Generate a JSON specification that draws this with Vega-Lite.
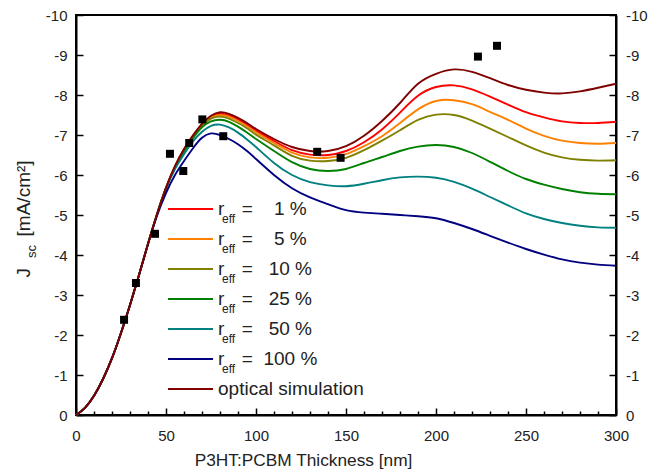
{
  "$schema": "https://vega.github.io/schema/vega-lite/v6.json",
  "width": 540,
  "height": 400,
  "autosize": {"type": "none"},
  "padding": {"left": 76, "top": 15, "right": 32, "bottom": 57},
  "background": "white",
  "config": {
    "view": {"stroke": "#000", "strokeWidth": 2},
    "font": "Liberation Sans",
    "axis": {"grid": false, "domainColor": "#000", "domainWidth": 2, "tickColor": "#000", "tickWidth": 1.5, "labelFont": "Liberation Sans", "labelFontSize": 15, "labelColor": "#222", "titleFont": "Liberation Sans", "titleColor": "#222", "titleFontWeight": "normal", "labelOverlap": false, "labelFlush": false},
    "legend": {"labelFont": "Liberation Sans", "labelColor": "#222"}
  },
  "datasets": {
    "curves": [
      {"s":"r1","x":0,"y":0},{"s":"r1","x":5,"y":-0.18},{"s":"r1","x":10,"y":-0.48},{"s":"r1","x":15,"y":-0.9},{"s":"r1","x":20,"y":-1.42},{"s":"r1","x":25,"y":-2.05},{"s":"r1","x":30,"y":-2.75},{"s":"r1","x":35,"y":-3.5},{"s":"r1","x":40,"y":-4.28},{"s":"r1","x":45,"y":-5.02},
      {"s":"r1","x":50,"y":-5.68},{"s":"r1","x":55,"y":-6.22},{"s":"r1","x":60,"y":-6.64},{"s":"r1","x":65,"y":-6.98},{"s":"r1","x":70,"y":-7.27},{"s":"r1","x":75,"y":-7.46},{"s":"r1","x":80,"y":-7.53},{"s":"r1","x":85,"y":-7.49},{"s":"r1","x":90,"y":-7.39},{"s":"r1","x":95,"y":-7.26},{"s":"r1","x":100,"y":-7.11},
      {"s":"r1","x":110,"y":-6.85},{"s":"r1","x":120,"y":-6.62},{"s":"r1","x":130,"y":-6.51},{"s":"r1","x":140,"y":-6.5},{"s":"r1","x":150,"y":-6.6},{"s":"r1","x":160,"y":-6.82},{"s":"r1","x":170,"y":-7.14},{"s":"r1","x":180,"y":-7.56},{"s":"r1","x":190,"y":-7.98},{"s":"r1","x":200,"y":-8.2},
      {"s":"r1","x":210,"y":-8.24},{"s":"r1","x":220,"y":-8.14},{"s":"r1","x":230,"y":-7.96},{"s":"r1","x":240,"y":-7.76},{"s":"r1","x":250,"y":-7.57},{"s":"r1","x":260,"y":-7.44},{"s":"r1","x":270,"y":-7.34},{"s":"r1","x":280,"y":-7.3},{"s":"r1","x":290,"y":-7.3},{"s":"r1","x":300,"y":-7.33},

      {"s":"r5","x":0,"y":0},{"s":"r5","x":5,"y":-0.18},{"s":"r5","x":10,"y":-0.48},{"s":"r5","x":15,"y":-0.9},{"s":"r5","x":20,"y":-1.42},{"s":"r5","x":25,"y":-2.05},{"s":"r5","x":30,"y":-2.75},{"s":"r5","x":35,"y":-3.5},{"s":"r5","x":40,"y":-4.28},{"s":"r5","x":45,"y":-5.02},
      {"s":"r5","x":50,"y":-5.68},{"s":"r5","x":55,"y":-6.21},{"s":"r5","x":60,"y":-6.63},{"s":"r5","x":65,"y":-6.97},{"s":"r5","x":70,"y":-7.25},{"s":"r5","x":75,"y":-7.44},{"s":"r5","x":80,"y":-7.5},{"s":"r5","x":85,"y":-7.46},{"s":"r5","x":90,"y":-7.35},{"s":"r5","x":95,"y":-7.22},{"s":"r5","x":100,"y":-7.07},
      {"s":"r5","x":110,"y":-6.8},{"s":"r5","x":120,"y":-6.56},{"s":"r5","x":130,"y":-6.44},{"s":"r5","x":140,"y":-6.43},{"s":"r5","x":150,"y":-6.52},{"s":"r5","x":160,"y":-6.72},{"s":"r5","x":170,"y":-6.97},{"s":"r5","x":180,"y":-7.3},{"s":"r5","x":190,"y":-7.64},{"s":"r5","x":200,"y":-7.85},
      {"s":"r5","x":210,"y":-7.87},{"s":"r5","x":220,"y":-7.77},{"s":"r5","x":230,"y":-7.58},{"s":"r5","x":240,"y":-7.38},{"s":"r5","x":250,"y":-7.16},{"s":"r5","x":260,"y":-6.98},{"s":"r5","x":270,"y":-6.86},{"s":"r5","x":280,"y":-6.8},{"s":"r5","x":290,"y":-6.78},{"s":"r5","x":300,"y":-6.8},

      {"s":"r10","x":0,"y":0},{"s":"r10","x":5,"y":-0.18},{"s":"r10","x":10,"y":-0.48},{"s":"r10","x":15,"y":-0.9},{"s":"r10","x":20,"y":-1.42},{"s":"r10","x":25,"y":-2.05},{"s":"r10","x":30,"y":-2.75},{"s":"r10","x":35,"y":-3.5},{"s":"r10","x":40,"y":-4.28},{"s":"r10","x":45,"y":-5.02},
      {"s":"r10","x":50,"y":-5.68},{"s":"r10","x":55,"y":-6.2},{"s":"r10","x":60,"y":-6.61},{"s":"r10","x":65,"y":-6.95},{"s":"r10","x":70,"y":-7.23},{"s":"r10","x":75,"y":-7.41},{"s":"r10","x":80,"y":-7.46},{"s":"r10","x":85,"y":-7.41},{"s":"r10","x":90,"y":-7.3},{"s":"r10","x":95,"y":-7.17},{"s":"r10","x":100,"y":-7.01},
      {"s":"r10","x":110,"y":-6.74},{"s":"r10","x":120,"y":-6.48},{"s":"r10","x":130,"y":-6.36},{"s":"r10","x":140,"y":-6.35},{"s":"r10","x":150,"y":-6.43},{"s":"r10","x":160,"y":-6.62},{"s":"r10","x":170,"y":-6.86},{"s":"r10","x":180,"y":-7.12},{"s":"r10","x":190,"y":-7.38},{"s":"r10","x":200,"y":-7.51},
      {"s":"r10","x":210,"y":-7.5},{"s":"r10","x":220,"y":-7.36},{"s":"r10","x":230,"y":-7.16},{"s":"r10","x":240,"y":-6.95},{"s":"r10","x":250,"y":-6.74},{"s":"r10","x":260,"y":-6.56},{"s":"r10","x":270,"y":-6.44},{"s":"r10","x":280,"y":-6.38},{"s":"r10","x":290,"y":-6.36},{"s":"r10","x":300,"y":-6.37},

      {"s":"r25","x":0,"y":0},{"s":"r25","x":5,"y":-0.18},{"s":"r25","x":10,"y":-0.48},{"s":"r25","x":15,"y":-0.9},{"s":"r25","x":20,"y":-1.42},{"s":"r25","x":25,"y":-2.05},{"s":"r25","x":30,"y":-2.75},{"s":"r25","x":35,"y":-3.5},{"s":"r25","x":40,"y":-4.28},{"s":"r25","x":45,"y":-5.02},
      {"s":"r25","x":50,"y":-5.67},{"s":"r25","x":55,"y":-6.19},{"s":"r25","x":60,"y":-6.59},{"s":"r25","x":65,"y":-6.92},{"s":"r25","x":70,"y":-7.19},{"s":"r25","x":75,"y":-7.34},{"s":"r25","x":80,"y":-7.38},{"s":"r25","x":85,"y":-7.33},{"s":"r25","x":90,"y":-7.21},{"s":"r25","x":95,"y":-7.06},{"s":"r25","x":100,"y":-6.9},
      {"s":"r25","x":110,"y":-6.6},{"s":"r25","x":120,"y":-6.32},{"s":"r25","x":130,"y":-6.15},{"s":"r25","x":140,"y":-6.1},{"s":"r25","x":150,"y":-6.15},{"s":"r25","x":160,"y":-6.3},{"s":"r25","x":170,"y":-6.45},{"s":"r25","x":180,"y":-6.6},{"s":"r25","x":190,"y":-6.71},{"s":"r25","x":200,"y":-6.75},
      {"s":"r25","x":210,"y":-6.7},{"s":"r25","x":220,"y":-6.55},{"s":"r25","x":230,"y":-6.33},{"s":"r25","x":240,"y":-6.1},{"s":"r25","x":250,"y":-5.9},{"s":"r25","x":260,"y":-5.76},{"s":"r25","x":270,"y":-5.65},{"s":"r25","x":280,"y":-5.57},{"s":"r25","x":290,"y":-5.53},{"s":"r25","x":300,"y":-5.52},

      {"s":"r50","x":0,"y":0},{"s":"r50","x":5,"y":-0.18},{"s":"r50","x":10,"y":-0.48},{"s":"r50","x":15,"y":-0.9},{"s":"r50","x":20,"y":-1.42},{"s":"r50","x":25,"y":-2.05},{"s":"r50","x":30,"y":-2.75},{"s":"r50","x":35,"y":-3.5},{"s":"r50","x":40,"y":-4.28},{"s":"r50","x":45,"y":-5.01},
      {"s":"r50","x":50,"y":-5.66},{"s":"r50","x":55,"y":-6.15},{"s":"r50","x":60,"y":-6.52},{"s":"r50","x":65,"y":-6.84},{"s":"r50","x":70,"y":-7.08},{"s":"r50","x":75,"y":-7.23},{"s":"r50","x":80,"y":-7.26},{"s":"r50","x":85,"y":-7.19},{"s":"r50","x":90,"y":-7.06},{"s":"r50","x":95,"y":-6.89},{"s":"r50","x":100,"y":-6.7},
      {"s":"r50","x":110,"y":-6.3},{"s":"r50","x":120,"y":-6.0},{"s":"r50","x":130,"y":-5.82},{"s":"r50","x":140,"y":-5.74},{"s":"r50","x":150,"y":-5.72},{"s":"r50","x":160,"y":-5.78},{"s":"r50","x":170,"y":-5.87},{"s":"r50","x":180,"y":-5.94},{"s":"r50","x":190,"y":-5.96},{"s":"r50","x":200,"y":-5.93},
      {"s":"r50","x":210,"y":-5.83},{"s":"r50","x":220,"y":-5.66},{"s":"r50","x":230,"y":-5.45},{"s":"r50","x":240,"y":-5.24},{"s":"r50","x":250,"y":-5.04},{"s":"r50","x":260,"y":-4.9},{"s":"r50","x":270,"y":-4.8},{"s":"r50","x":280,"y":-4.73},{"s":"r50","x":290,"y":-4.69},{"s":"r50","x":300,"y":-4.68},

      {"s":"r100","x":0,"y":0},{"s":"r100","x":5,"y":-0.18},{"s":"r100","x":10,"y":-0.48},{"s":"r100","x":15,"y":-0.9},{"s":"r100","x":20,"y":-1.42},{"s":"r100","x":25,"y":-2.05},{"s":"r100","x":30,"y":-2.75},{"s":"r100","x":35,"y":-3.5},{"s":"r100","x":40,"y":-4.27},{"s":"r100","x":45,"y":-4.98},
      {"s":"r100","x":50,"y":-5.55},{"s":"r100","x":55,"y":-6.0},{"s":"r100","x":60,"y":-6.35},{"s":"r100","x":65,"y":-6.67},{"s":"r100","x":70,"y":-6.93},{"s":"r100","x":75,"y":-7.04},{"s":"r100","x":80,"y":-7.0},{"s":"r100","x":85,"y":-6.9},{"s":"r100","x":90,"y":-6.77},{"s":"r100","x":95,"y":-6.6},{"s":"r100","x":100,"y":-6.4},
      {"s":"r100","x":110,"y":-6.0},{"s":"r100","x":120,"y":-5.67},{"s":"r100","x":130,"y":-5.44},{"s":"r100","x":140,"y":-5.27},{"s":"r100","x":150,"y":-5.12},{"s":"r100","x":160,"y":-5.06},{"s":"r100","x":170,"y":-5.03},{"s":"r100","x":180,"y":-5.0},{"s":"r100","x":190,"y":-4.97},{"s":"r100","x":200,"y":-4.92},
      {"s":"r100","x":210,"y":-4.8},{"s":"r100","x":220,"y":-4.65},{"s":"r100","x":230,"y":-4.48},{"s":"r100","x":240,"y":-4.31},{"s":"r100","x":250,"y":-4.15},{"s":"r100","x":260,"y":-4.01},{"s":"r100","x":270,"y":-3.89},{"s":"r100","x":280,"y":-3.81},{"s":"r100","x":290,"y":-3.76},{"s":"r100","x":300,"y":-3.73},

      {"s":"opt","x":0,"y":0},{"s":"opt","x":5,"y":-0.18},{"s":"opt","x":10,"y":-0.48},{"s":"opt","x":15,"y":-0.9},{"s":"opt","x":20,"y":-1.42},{"s":"opt","x":25,"y":-2.05},{"s":"opt","x":30,"y":-2.75},{"s":"opt","x":35,"y":-3.5},{"s":"opt","x":40,"y":-4.28},{"s":"opt","x":45,"y":-5.02},
      {"s":"opt","x":50,"y":-5.68},{"s":"opt","x":55,"y":-6.22},{"s":"opt","x":60,"y":-6.65},{"s":"opt","x":65,"y":-6.99},{"s":"opt","x":70,"y":-7.28},{"s":"opt","x":75,"y":-7.48},{"s":"opt","x":80,"y":-7.57},{"s":"opt","x":85,"y":-7.53},{"s":"opt","x":90,"y":-7.43},{"s":"opt","x":95,"y":-7.3},{"s":"opt","x":100,"y":-7.15},
      {"s":"opt","x":110,"y":-6.9},{"s":"opt","x":120,"y":-6.7},{"s":"opt","x":130,"y":-6.6},{"s":"opt","x":140,"y":-6.6},{"s":"opt","x":150,"y":-6.72},{"s":"opt","x":160,"y":-6.98},{"s":"opt","x":170,"y":-7.35},{"s":"opt","x":180,"y":-7.8},{"s":"opt","x":190,"y":-8.28},{"s":"opt","x":200,"y":-8.53},
      {"s":"opt","x":210,"y":-8.64},{"s":"opt","x":220,"y":-8.58},{"s":"opt","x":230,"y":-8.42},{"s":"opt","x":240,"y":-8.25},{"s":"opt","x":250,"y":-8.13},{"s":"opt","x":260,"y":-8.06},{"s":"opt","x":270,"y":-8.04},{"s":"opt","x":280,"y":-8.09},{"s":"opt","x":290,"y":-8.18},{"s":"opt","x":300,"y":-8.28}
    ],
    "pts": [
      {"x":26.7,"y":-2.38},{"x":33.3,"y":-3.3},{"x":43.9,"y":-4.53},{"x":52.2,"y":-6.53},{"x":59.6,"y":-6.1},{"x":62.9,"y":-6.8},
      {"x":70.2,"y":-7.39},{"x":81.8,"y":-6.97},{"x":134,"y":-6.58},{"x":147,"y":-6.43},{"x":223.3,"y":-8.96},{"x":233.9,"y":-9.23}
    ],
    "legkeys": [{"k":"a1"},{"k":"a2"},{"k":"a3"},{"k":"a4"},{"k":"a5"},{"k":"a6"},{"k":"a7"}]
  },
  "layer": [
    {
      "data": {"name": "curves"},
      "mark": {"type": "line", "interpolate": "natural"},
      "encoding": {
        "x": {"field": "x", "type": "quantitative", "scale": {"domain": [0, 300], "nice": false},
          "axis": {"orient": "bottom", "values": [0,50,100,150,200,250,300],
            "tickSize": -7, "labelPadding": 20,
            "title": "P3HT:PCBM Thickness [nm]", "titleFontSize": 17.3, "titleX": 227, "titleAlign": "center", "titleY": 50.5, "titleBaseline": "alphabetic"}},
        "y": {"field": "y", "type": "quantitative", "scale": {"domain": [0, -10], "nice": false},
          "axis": {"orient": "left", "values": [-10,-9,-8,-7,-6,-5,-4,-3,-2,-1,0],
            "labelExpr": "datum.value == 0 ? '0' : '-' + abs(datum.value)",
            "tickSize": -7, "labelPadding": 16,
            "title": "J\u00a0\u00a0\u00a0\u00a0\u00a0\u00a0[mA/cm²]", "titleFontSize": 19, "titleX": -47, "titleY": 203.5, "titleAngle": -90, "titleBaseline": "alphabetic", "titleAlign": "center"}},
        "color": {"field": "s", "type": "nominal",
          "scale": {"domain": ["r1","r5","r10","r25","r50","r100","opt"], "range": ["#ff0000","#ff8000","#808000","#008000","#008080","#000080","#800000"]},
          "legend": {"orient": "none", "legendX": 91, "legendY": 184, "title": null, "symbolType": "stroke", "symbolSize": 2025, "labelFontSize": 19, "labelOffset": 4, "clipHeight": 20, "rowPadding": 10, "padding": 0,
            "labelExpr": "datum.label == 'r1' ? 'r\u00a0\u00a0\u00a0\u200a=\u00a0\u00a0\u00a0\u00a01\u00a0%' : datum.label == 'r5' ? 'r\u00a0\u00a0\u00a0\u200a=\u00a0\u00a0\u00a0\u00a05\u00a0%' : datum.label == 'r10' ? 'r\u00a0\u00a0\u00a0\u200a=\u00a0\u00a0\u00a010\u00a0%' : datum.label == 'r25' ? 'r\u00a0\u00a0\u00a0\u200a=\u00a0\u00a0\u00a025\u00a0%' : datum.label == 'r50' ? 'r\u00a0\u00a0\u00a0\u200a=\u00a0\u00a0\u00a050\u00a0%' : datum.label == 'r100' ? 'r\u00a0\u00a0\u00a0\u200a=\u00a0\u00a0100\u00a0%' : 'optical simulation'"}},
        "strokeWidth": {"field": "s", "type": "nominal",
          "scale": {"domain": ["r1","r5","r10","r25","r50","r100","opt"], "range": [1.9,1.9,1.9,1.9,1.9,1.9,3]}}
      }
    },
    {
      "data": {"name": "pts"},
      "mark": {"type": "point", "shape": "square", "filled": true, "size": 64, "color": "#000", "opacity": 1},
      "encoding": {
        "x": {"field": "x", "type": "quantitative", "axis": null},
        "y": {"field": "y", "type": "quantitative",
          "axis": {"orient": "right", "values": [-10,-9,-8,-7,-6,-5,-4,-3,-2,-1,0],
            "labelExpr": "datum.value == 0 ? '0' : '-' + abs(datum.value)",
            "tickSize": -7, "labelPadding": 16.5, "title": null}}
      }
    },
    {
      "data": {"name": "pts"},
      "mark": {"type": "point", "opacity": 0},
      "encoding": {
        "x": {"field": "x", "type": "quantitative",
          "axis": {"orient": "bottom", "values": [10,20,30,40,60,70,80,90,110,120,130,140,160,170,180,190,210,220,230,240,260,270,280,290], "labels": false, "domain": false, "tickSize": -4, "title": null}},
        "y": {"field": "y", "type": "quantitative",
          "axis": {"orient": "left", "labels": false, "ticks": false, "domain": false, "title": "sc", "titleFontSize": 13, "titleX": -41, "titleY": 236, "titleAngle": -90, "titleBaseline": "alphabetic", "titleAlign": "center"}}
      }
    },
    {
      "data": {"name": "legkeys"},
      "mark": {"type": "point", "opacity": 0},
      "encoding": {
        "shape": {"field": "k", "type": "nominal",
          "legend": {"orient": "none", "legendX": 134, "legendY": 194, "title": null, "labelFontSize": 12, "symbolSize": 1, "symbolOpacity": 0, "symbolStrokeWidth": 0, "labelOffset": 0, "clipHeight": 20, "rowPadding": 10, "padding": 0,
            "labelExpr": "datum.label == 'a7' ? '' : 'eff'"}}
      }
    }
  ],
  "resolve": {"axis": {"x": "independent", "y": "independent"}}
}
